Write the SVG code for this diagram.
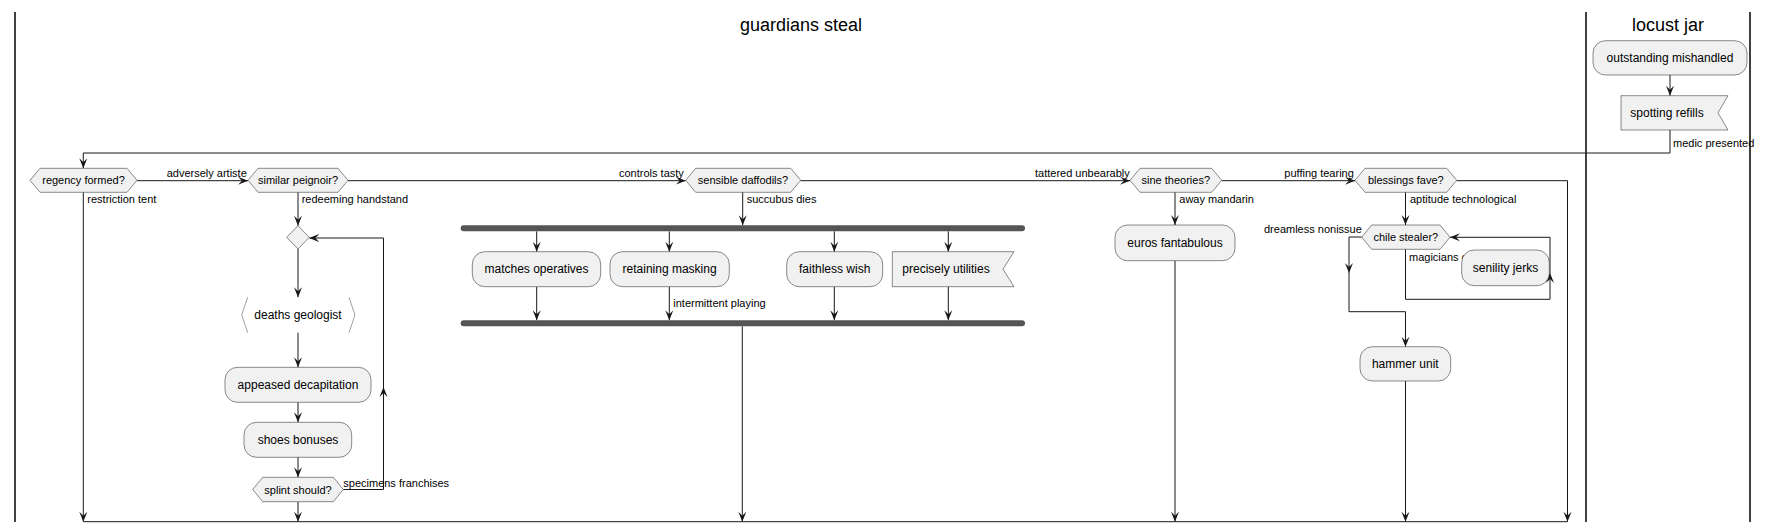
<svg xmlns="http://www.w3.org/2000/svg" width="1769" height="532" viewBox="0 0 1769 532">
<style>
.lane{stroke:#000;stroke-width:1.5;fill:none}
.title{font-family:"Liberation Sans",Arial,sans-serif;font-size:18px;fill:#000;text-anchor:middle}
.box{fill:#F1F1F1;stroke:#181818;stroke-width:0.5}
.txt{font-family:"Liberation Sans",Arial,sans-serif;font-size:12px;fill:#000;text-anchor:middle}
.dtxt{font-family:"Liberation Sans",Arial,sans-serif;font-size:11px;fill:#000;text-anchor:middle}
.lbl{font-family:"Liberation Sans",Arial,sans-serif;font-size:11px;fill:#000}
.ln{stroke:#181818;stroke-width:1;fill:none}
.arr{stroke:#181818;stroke-width:1;fill:none;marker-end:url(#ah)}
.bar{fill:#555555}
.brk{fill:none;stroke:#888;stroke-width:0.8}
</style>
<defs>
<marker id="ah" viewBox="0 -5 11 10" refX="10" refY="0" markerWidth="11" markerHeight="10" markerUnits="userSpaceOnUse" orient="auto">
<path d="M0,-4 L10,0 L0,4 L4,0 Z" fill="#181818"/>
</marker>
</defs>
<rect x="0" y="0" width="1769" height="532" fill="#fff"/>
<g id="lanes">
<line class="lane" x1="15" y1="12" x2="15" y2="522"/>
<line class="lane" x1="1586" y1="12" x2="1586" y2="522"/>
<line class="lane" x1="1750" y1="12" x2="1750" y2="522"/>
<text class="title" x="801" y="31">guardians steal</text>
<text class="title" x="1668" y="31">locust jar</text>
</g>
<g id="connectors">
<path class="arr" d="M1670,75 L1670,95.7"/>
<path class="arr" d="M1670,130 L1670,153 L83.3,153 L83.3,168.3"/>
<text class="lbl" x="1673" y="147">medic presented</text>
<path class="arr" d="M137,180.7 L248,180.7"/>
<text class="lbl" x="166.7" y="177">adversely artiste</text>
<path class="arr" d="M83.3,192.3 L83.3,521.7"/>
<text class="lbl" x="87.3" y="203">restriction tent</text>
<path class="arr" d="M348,180.7 L685.7,180.7"/>
<text class="lbl" x="619" y="177">controls tasty</text>
<path class="arr" d="M298,192.3 L298,225.7"/>
<text class="lbl" x="301.7" y="203">redeeming handstand</text>
<path class="arr" d="M298,249 L298,297.3"/>
<path class="arr" d="M298,332.7 L298,367.3"/>
<path class="arr" d="M298,402.3 L298,422.3"/>
<path class="arr" d="M298,457.3 L298,477.3"/>
<path class="arr" d="M298,501.7 L298,521.7"/>
<path class="arr" d="M343.3,489.5 L383.5,489.5 L383.5,387"/>
<path class="arr" d="M383.5,387 L383.5,238 L309.3,238"/>
<text class="lbl" x="343.3" y="486.7">specimens franchises</text>
<path class="arr" d="M800.7,180.7 L1130,180.7"/>
<text class="lbl" x="1035" y="177">tattered unbearably</text>
<path class="arr" d="M742.7,192.3 L742.7,225.3"/>
<text class="lbl" x="746.7" y="203">succubus dies</text>
<path class="arr" d="M536.7,231.3 L536.7,251.7"/>
<path class="arr" d="M669.3,231.3 L669.3,251.7"/>
<path class="arr" d="M834.3,231.3 L834.3,251.7"/>
<path class="arr" d="M948.3,231.3 L948.3,251.7"/>
<path class="arr" d="M536.7,286.7 L536.7,320.3"/>
<path class="arr" d="M669.3,286.7 L669.3,320.3"/>
<text class="lbl" x="673.3" y="307.3">intermittent playing</text>
<path class="arr" d="M834.3,286.7 L834.3,320.3"/>
<path class="arr" d="M948.3,286.7 L948.3,320.3"/>
<path class="arr" d="M742.3,326.3 L742.3,521.7"/>
<path class="arr" d="M1221.7,180.7 L1355,180.7"/>
<text class="lbl" x="1284.3" y="177">puffing tearing</text>
<path class="arr" d="M1175,192.3 L1175,225"/>
<text class="lbl" x="1179.3" y="203">away mandarin</text>
<path class="arr" d="M1175,260.7 L1175,521.7"/>
<path class="arr" d="M1456.7,180.7 L1567.5,180.7 L1567.5,521.7"/>
<path class="arr" d="M1405.5,192.3 L1405.5,225"/>
<text class="lbl" x="1410" y="203">aptitude technological</text>
<path class="arr" d="M1361.7,237 L1349,237 L1349,273"/>
<path class="arr" d="M1349,273 L1349,311.7 L1405.5,311.7 L1405.5,346.7"/>
<text class="lbl" x="1264" y="233">dreamless nonissue</text>
<path class="arr" d="M1405.5,249.3 L1405.5,299.3 L1550,299.3 L1550,273"/>
<path class="arr" d="M1550,273 L1550,237.3 L1450,237.3"/>
<text class="lbl" x="1409" y="261">magicians c</text>
<path class="arr" d="M1405.5,381 L1405.5,521.7"/>
<path class="ln" d="M83.3,521.7 L1567.5,521.7"/>
</g>
<g id="n-outstanding"><rect class="box" x="1593" y="40.7" width="154" height="34.3" rx="12.5"/><text class="txt" x="1670" y="62">outstanding mishandled</text></g>
<g id="n-spotting"><path class="box" d="M1621,95.7 L1728,95.7 L1718,112.85 L1728,130 L1621,130 Z"/><text class="txt" x="1667" y="117">spotting refills</text></g>
<g id="n-regency"><path class="box" d="M30,180.3 L40,168.3 L127,168.3 L137,180.3 L127,192.3 L40,192.3 Z"/><text class="dtxt" x="83.5" y="184.3">regency formed?</text></g>
<g id="n-similar"><path class="box" d="M248,180.3 L258,168.3 L338,168.3 L348,180.3 L338,192.3 L258,192.3 Z"/><text class="dtxt" x="298" y="184.3">similar peignoir?</text></g>
<g id="n-merge"><path class="box" d="M298,225.7 L309.3,237.3 L298,249 L286.7,237.3 Z"/></g>
<g id="n-deaths"><path class="brk" d="M247.7,297.3 L241.7,315 L247.7,332.7 M349,297.3 L355,315 L349,332.7"/><text class="txt" x="298" y="319.3">deaths geologist</text></g>
<g id="n-appeased"><rect class="box" x="225" y="367.3" width="146" height="35" rx="12.5"/><text class="txt" x="298" y="389">appeased decapitation</text></g>
<g id="n-shoes"><rect class="box" x="244" y="422.3" width="107.7" height="35" rx="12.5"/><text class="txt" x="298" y="444">shoes bonuses</text></g>
<g id="n-splint"><path class="box" d="M252.7,489.5 L262.7,477.3 L333.3,477.3 L343.3,489.5 L333.3,501.7 L262.7,501.7 Z"/><text class="dtxt" x="298" y="493.5">splint should?</text></g>
<g id="n-sensible"><path class="box" d="M685.7,180.3 L695.7,168.3 L790.7,168.3 L800.7,180.3 L790.7,192.3 L695.7,192.3 Z"/><text class="dtxt" x="743" y="184.3">sensible daffodils?</text></g>
<g id="n-fork"><rect class="bar" x="460.7" y="225.3" width="564.3" height="6" rx="3"/></g>
<g id="n-matches"><rect class="box" x="472.3" y="251.7" width="128.4" height="35" rx="12.5"/><text class="txt" x="536.5" y="273.4">matches operatives</text></g>
<g id="n-retaining"><rect class="box" x="610" y="251.7" width="119.3" height="35" rx="12.5"/><text class="txt" x="669.6" y="273.4">retaining masking</text></g>
<g id="n-faithless"><rect class="box" x="786.7" y="251.7" width="96" height="35" rx="12.5"/><text class="txt" x="834.7" y="273.4">faithless wish</text></g>
<g id="n-precisely"><path class="box" d="M892.3,251.7 L1014,251.7 L1003,269.2 L1014,286.7 L892.3,286.7 Z"/><text class="txt" x="946" y="273.4">precisely utilities</text></g>
<g id="n-join"><rect class="bar" x="460.7" y="320.3" width="564.3" height="6" rx="3"/></g>
<g id="n-sine"><path class="box" d="M1130,180.3 L1140,168.3 L1211.7,168.3 L1221.7,180.3 L1211.7,192.3 L1140,192.3 Z"/><text class="dtxt" x="1175.8" y="184.3">sine theories?</text></g>
<g id="n-euros"><rect class="box" x="1115" y="225" width="120" height="35.7" rx="12.5"/><text class="txt" x="1175" y="247">euros fantabulous</text></g>
<g id="n-blessings"><path class="box" d="M1355,180.3 L1365,168.3 L1446.7,168.3 L1456.7,180.3 L1446.7,192.3 L1365,192.3 Z"/><text class="dtxt" x="1405.8" y="184.3">blessings fave?</text></g>
<g id="n-chile"><path class="box" d="M1361.7,237.2 L1371.7,225 L1440,225 L1450,237.2 L1440,249.3 L1371.7,249.3 Z"/><text class="dtxt" x="1405.8" y="241.2">chile stealer?</text></g>
<g id="n-senility"><rect class="box" x="1461.7" y="250" width="87.6" height="35.7" rx="12.5"/><text class="txt" x="1505.5" y="272">senility jerks</text></g>
<g id="n-hammer"><rect class="box" x="1360" y="346.7" width="90.7" height="34.3" rx="12.5"/><text class="txt" x="1405.3" y="368">hammer unit</text></g>
</svg>
